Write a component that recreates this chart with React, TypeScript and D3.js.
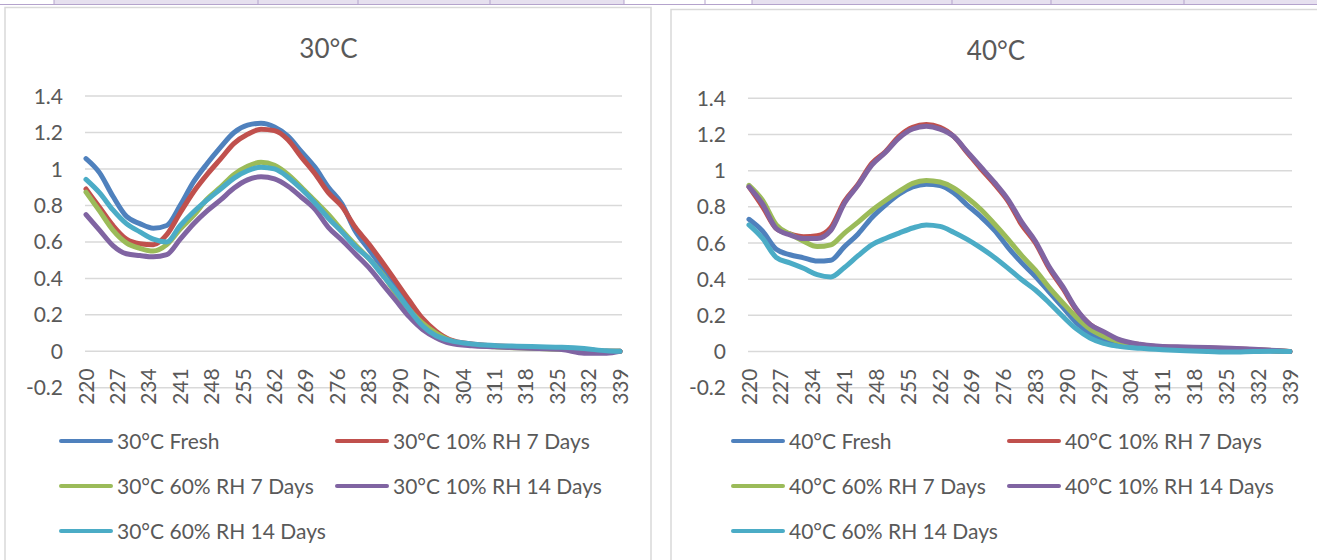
import React from 'react';
import * as d3 from 'd3';

const wavelengths = [220, 223, 226, 229, 232, 235, 238, 241, 244, 247, 250, 253, 256, 259, 262, 265, 268, 271, 274, 277, 280, 283, 286, 289, 292, 295, 298, 301, 306, 311, 316, 321, 326, 331, 336, 339];

const xTickLabels = [220, 227, 234, 241, 248, 255, 262, 269, 276, 283, 290, 297, 304, 311, 318, 325, 332, 339];
const yTickLabels = [-0.2, 0, 0.2, 0.4, 0.6, 0.8, 1, 1.2, 1.4];

// 30°C
const fresh30 = [1.057, 0.98, 0.85, 0.74, 0.70, 0.675, 0.69, 0.80, 0.93, 1.03, 1.12, 1.20, 1.24, 1.25, 1.23, 1.18, 1.095, 1.01, 0.90, 0.81, 0.66, 0.56, 0.46, 0.35, 0.25, 0.15, 0.095, 0.055, 0.035, 0.028, 0.022, 0.018, 0.015, 0.01, 0.0, 0.0];
const rh10d7_30 = [0.89, 0.79, 0.69, 0.615, 0.59, 0.585, 0.64, 0.76, 0.875, 0.97, 1.055, 1.14, 1.19, 1.218, 1.21, 1.16, 1.065, 0.975, 0.87, 0.795, 0.68, 0.59, 0.49, 0.385, 0.28, 0.18, 0.11, 0.065, 0.04, 0.03, 0.025, 0.02, 0.015, 0.01, 0.0, 0.0];
const rh60d7_30 = [0.873, 0.77, 0.665, 0.595, 0.565, 0.55, 0.585, 0.67, 0.745, 0.835, 0.90, 0.97, 1.015, 1.037, 1.02, 0.97, 0.90, 0.825, 0.75, 0.665, 0.585, 0.51, 0.425, 0.32, 0.23, 0.155, 0.10, 0.06, 0.035, 0.025, 0.02, 0.015, 0.012, 0.008, 0.0, 0.0];
const rh10d14_30 = [0.75, 0.665, 0.58, 0.535, 0.525, 0.518, 0.53, 0.615, 0.70, 0.77, 0.83, 0.895, 0.94, 0.957, 0.945, 0.905, 0.845, 0.78, 0.68, 0.61, 0.535, 0.46, 0.37, 0.28, 0.19, 0.12, 0.075, 0.045, 0.03, 0.025, 0.02, 0.015, 0.01, -0.01, -0.01, 0.0];
const rh60d14_30 = [0.943, 0.87, 0.775, 0.70, 0.655, 0.615, 0.60, 0.69, 0.765, 0.83, 0.89, 0.95, 0.99, 1.01, 1.0, 0.955, 0.89, 0.815, 0.73, 0.655, 0.575, 0.51, 0.42, 0.33, 0.23, 0.14, 0.085, 0.06, 0.04, 0.032, 0.028, 0.025, 0.022, 0.015, 0.003, 0.0];

// 40°C
const fresh40 = [0.731, 0.665, 0.565, 0.535, 0.518, 0.50, 0.505, 0.58, 0.65, 0.74, 0.81, 0.87, 0.91, 0.925, 0.918, 0.878, 0.81, 0.745, 0.67, 0.575, 0.49, 0.415, 0.33, 0.245, 0.16, 0.10, 0.065, 0.04, 0.025, 0.015, 0.01, 0.008, 0.005, 0.004, 0.002, 0.0];
const rh10d7_40 = [0.91, 0.80, 0.68, 0.65, 0.635, 0.64, 0.685, 0.83, 0.925, 1.04, 1.105, 1.19, 1.24, 1.255, 1.24, 1.19, 1.10, 1.01, 0.925, 0.83, 0.70, 0.60, 0.46, 0.35, 0.23, 0.15, 0.105, 0.065, 0.038, 0.026, 0.022, 0.02, 0.016, 0.01, 0.004, 0.0];
const rh60d7_40 = [0.919, 0.835, 0.70, 0.65, 0.61, 0.58, 0.59, 0.655, 0.715, 0.78, 0.835, 0.885, 0.93, 0.946, 0.937, 0.905, 0.85, 0.785, 0.705, 0.62, 0.53, 0.45, 0.355, 0.27, 0.19, 0.125, 0.085, 0.058, 0.035, 0.022, 0.018, 0.014, 0.01, 0.008, 0.004, 0.0];
const rh10d14_40 = [0.91, 0.815, 0.68, 0.645, 0.625, 0.625, 0.67, 0.82, 0.92, 1.03, 1.10, 1.18, 1.23, 1.245, 1.23, 1.19, 1.105, 1.02, 0.935, 0.84, 0.715, 0.61, 0.47, 0.36, 0.235, 0.15, 0.11, 0.07, 0.04, 0.028, 0.025, 0.022, 0.018, 0.012, 0.005, 0.0];
const rh60d14_40 = [0.70, 0.625, 0.52, 0.49, 0.46, 0.425, 0.412, 0.465, 0.53, 0.59, 0.625, 0.655, 0.683, 0.70, 0.692, 0.66, 0.62, 0.573, 0.52, 0.46, 0.397, 0.34, 0.27, 0.195, 0.125, 0.075, 0.045, 0.03, 0.018, 0.01, 0.004, 0.0, -0.003, 0.0, 0.002, 0.0];

const seriesLabels = ['Fresh', '10% RH 7 Days', '60% RH 7 Days', '10% RH 14 Days', '60% RH 14 Days'];
const colors = ['#4F81BD', '#C0504D', '#9BBB59', '#8064A2', '#4BACC6'];

const textColor = '#595959';
const gridColor = '#D9D9D9';
const font = 'Lato, "Open Sans", sans-serif';

type ChartProps = {
  temp: string;
  values: number[][];
  box: { x: number; y: number; w: number };
  xRange: [number, number];
  yRange: [number, number];
  titleX: number;
  titleY: number;
  legendX: number;
};

const Chart = ({ temp, values, box, xRange, yRange, titleX, titleY, legendX }: ChartProps) => {
  const x = d3.scaleLinear().domain([220, 339]).range(xRange);
  const y = d3.scaleLinear().domain([-0.2, 1.4]).range(yRange);
  const line = d3.line<number>()
    .x((d, i) => x(wavelengths[i]))
    .y(d => y(d))
    .curve(d3.curveMonotoneX);

  const legendRows = [441, 486, 531];
  const colGap = 276;

  return (
    <g>
      <rect x={box.x} y={box.y} width={box.w} height={600} fill="#fff" stroke="#D9D9D9" strokeWidth={1.5} />
      <text x={titleX} y={titleY} textAnchor="middle" fontSize={26} fill={textColor} fontFamily={font}>{temp}</text>

      {yTickLabels.map(t => (
        <g key={t}>
          <line x1={xRange[0] - 1} x2={xRange[1] + 2} y1={y(t)} y2={y(t)} stroke={gridColor} strokeWidth={1.5} />
          <text x={xRange[0] - 23} y={y(t)} dy="0.36em" textAnchor="end" fontSize={21} fill={textColor} fontFamily={font}>{t}</text>
        </g>
      ))}

      {xTickLabels.map(t => (
        <text key={t} transform={`translate(${x(t)},${y(0) + 17}) rotate(-90)`} dy="0.36em" textAnchor="end"
          fontSize={21} fill={textColor} fontFamily={font}>{t}</text>
      ))}

      {values.map((s, i) => (
        <path key={i} d={line(s) || ''} fill="none" stroke={colors[i]} strokeWidth={5}
          strokeLinejoin="round" strokeLinecap="round" />
      ))}

      {seriesLabels.map((name, i) => {
        const lx = legendX + (i % 2) * colGap;
        const ly = legendRows[Math.floor(i / 2)];
        return (
          <g key={name}>
            <line x1={lx + 2} x2={lx + 52} y1={ly} y2={ly} stroke={colors[i]} strokeWidth={4} strokeLinecap="round" />
            <text x={lx + 58} y={ly} dy="0.36em" fontSize={21} fill={textColor} fontFamily={font}>{`${temp} ${name}`}</text>
          </g>
        );
      })}
    </g>
  );
};

const headerDividers = [54, 258, 358, 490, 624, 705, 752, 952, 1051, 1184];

const App = () => {
  return (
    <svg width={1317} height={560} style={{ position: 'absolute', left: 0, top: 0, background: '#fff' }}>
      <rect x={54} y={0} width={570} height={4} fill="#E6E0EF" />
      <rect x={752} y={0} width={565} height={4} fill="#E6E0EF" />
      {headerDividers.map(d => (
        <line key={d} x1={d} x2={d} y1={0} y2={4} stroke="#B4A3CC" strokeWidth={1} />
      ))}
      <line x1={0} x2={1317} y1={4.5} y2={4.5} stroke="#B4A3CC" strokeWidth={1} />

      <Chart temp="30°C" values={[fresh30, rh10d7_30, rh60d7_30, rh10d14_30, rh60d14_30]}
        box={{ x: 5, y: 7.5, w: 646 }} xRange={[86, 620]} yRange={[387.8, 96]}
        titleX={328.5} titleY={58} legendX={59} />
      <Chart temp="40°C" values={[fresh40, rh10d7_40, rh60d7_40, rh10d14_40, rh60d14_40]}
        box={{ x: 671, y: 9.5, w: 700 }} xRange={[749, 1290]} yRange={[387.7, 98.3]}
        titleX={996} titleY={60} legendX={731} />
    </svg>
  );
};

export default App;
